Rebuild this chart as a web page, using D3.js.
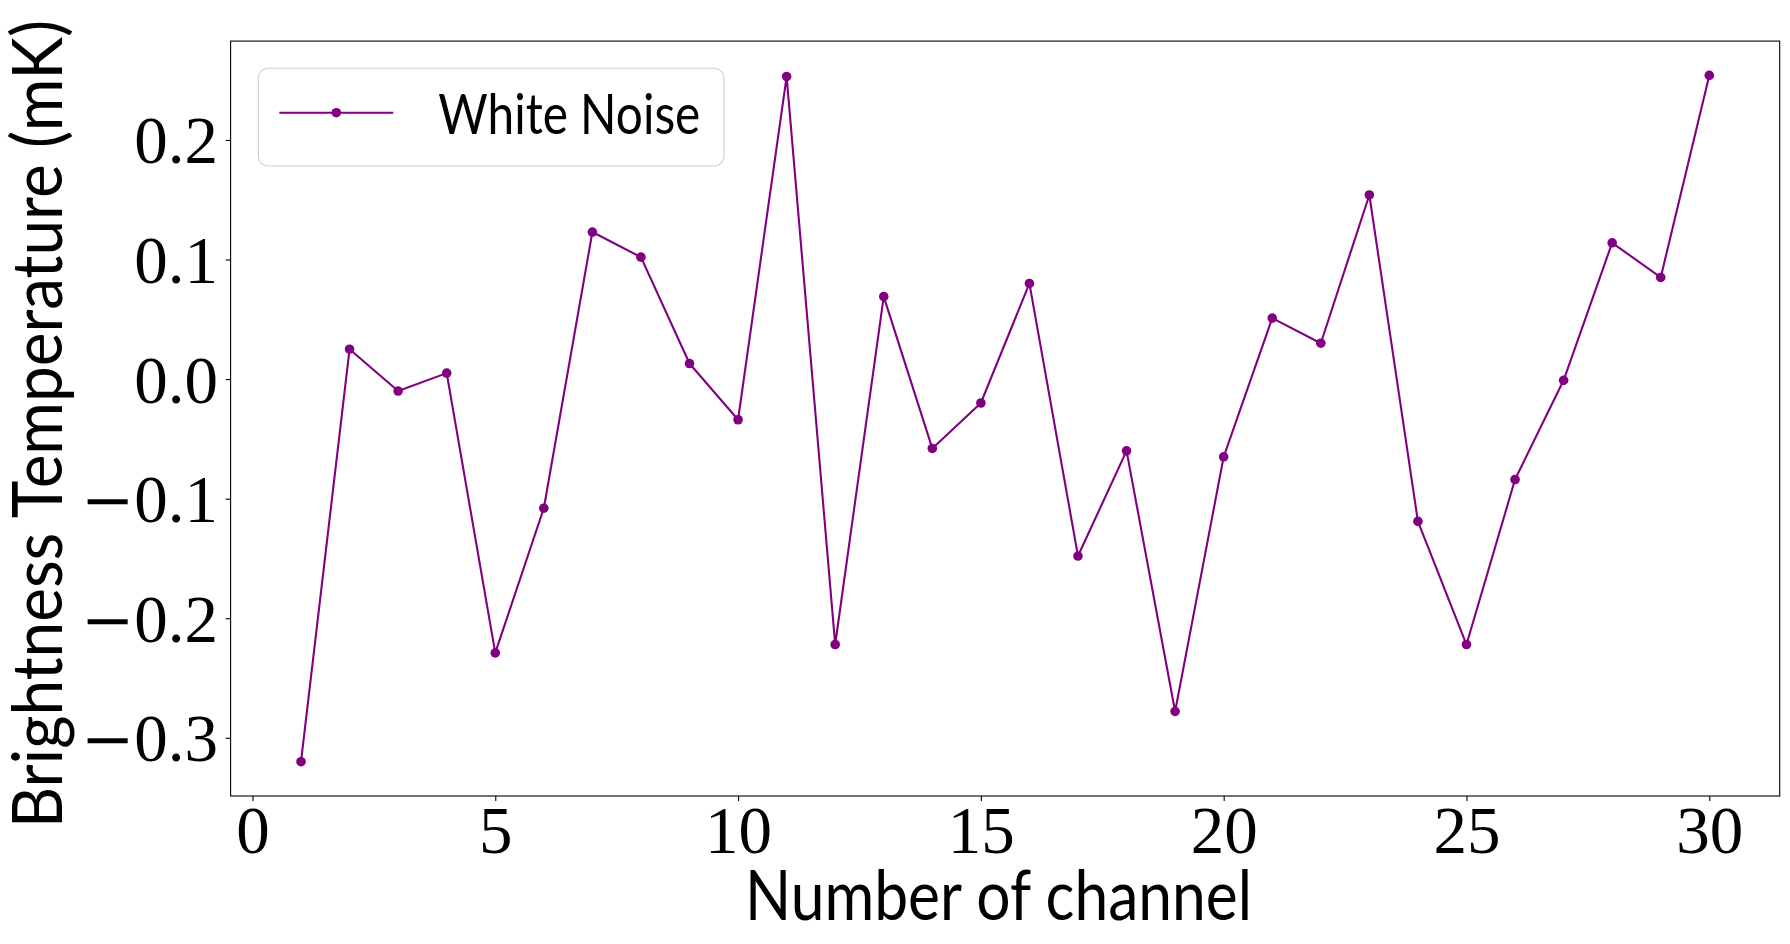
<!DOCTYPE html>
<html><head><meta charset="utf-8">
<script src="https://cdn.jsdelivr.net/npm/d3@7"></script>
<style>html,body{margin:0;padding:0;background:#fff;} svg{display:block;}</style>
</head><body>
<svg id="chart" width="1790" height="944"></svg>
<script>
// ---- data ----
const channels = [1,2,3,4,5,6,7,8,9,10,11,12,13,14,15,16,17,18,19,20,21,22,23,24,25,26,27,28,29,30];
const whiteNoise = [-0.320,0.025,-0.010,0.005,-0.229,-0.108,0.123,0.102,0.013,-0.034,
                    0.253,-0.222,0.069,-0.058,-0.020,0.080,-0.148,-0.060,-0.278,-0.065,
                    0.051,0.030,0.154,-0.119,-0.222,-0.084,-0.001,0.114,0.085,0.254];
const xTicks = [0,5,10,15,20,25,30];
const xTickLabels = ["0","5","10","15","20","25","30"];
const yTicks = [-0.3,-0.2,-0.1,0.0,0.1,0.2];
const yTickLabels = ["\u22120.3","\u22120.2","\u22120.1","0.0","0.1","0.2"];
const xLabel = "Number of channel";
const yLabel = "Brightness Temperature (mK)";
const seriesName = "White Noise";

// ---- layout ----
const W = 1790, H = 944;
const m = {left:230.6, right:1779.7, top:41.1, bottom:796};
const color = "#800080";
const serif = "'Liberation Serif', 'Times New Roman', serif";
const sans = "Lato, 'DejaVu Sans', sans-serif";

const svg = d3.select("#chart");
svg.append("rect").attr("width", W).attr("height", H).attr("fill", "#fff");

const [xmin, xmax] = d3.extent(channels);
const xpad = (xmax - xmin) * 0.05;
const x = d3.scaleLinear().domain([xmin - xpad, xmax + xpad]).range([m.left, m.right]);
const [ymin, ymax] = d3.extent(whiteNoise);
const ypad = (ymax - ymin) * 0.05;
const y = d3.scaleLinear().domain([ymin - ypad, ymax + ypad]).range([m.bottom, m.top]);

// x axis
const gx = svg.append("g").attr("transform", `translate(0,${m.bottom})`)
  .call(d3.axisBottom(x).tickValues(xTicks).tickFormat((d,i) => xTickLabels[i]).tickSize(5).tickSizeOuter(0));
gx.select(".domain").remove();
gx.selectAll(".tick line").attr("stroke", "#000").attr("stroke-width", 1.1);
gx.selectAll(".tick text").attr("y", 57).attr("dy", 0)
  .attr("font-family", serif).attr("font-size", 67).attr("fill", "#000");

// y axis
const gy = svg.append("g").attr("transform", `translate(${m.left},0)`)
  .call(d3.axisLeft(y).tickValues(yTicks).tickFormat((d,i) => yTickLabels[i]).tickSize(5).tickSizeOuter(0));
gy.select(".domain").remove();
gy.selectAll(".tick line").attr("stroke", "#000").attr("stroke-width", 1.1);
gy.selectAll(".tick text").attr("x", -12.6).attr("dy", 0).attr("y", 23)
  .attr("font-family", serif).attr("font-size", 67).attr("fill", "#000")
  .each(function() {
    const t = d3.select(this);
    const s = t.text();
    if (s.startsWith("\u2212")) {
      t.text("");
      t.append("tspan").attr("font-family", "'DejaVu Serif', serif").attr("font-size", 64).text("\u2212");
      t.append("tspan").text(s.slice(1));
    }
  });

// frame
svg.append("rect").attr("x", m.left).attr("y", m.top)
  .attr("width", m.right - m.left).attr("height", m.bottom - m.top)
  .attr("fill", "none").attr("stroke", "#000").attr("stroke-width", 1.1);

// series
const pts = channels.map((c, i) => [c, whiteNoise[i]]);
svg.append("path").datum(pts)
  .attr("d", d3.line().x(d => x(d[0])).y(d => y(d[1])))
  .attr("fill", "none").attr("stroke", color).attr("stroke-width", 2.1).attr("stroke-linejoin", "round");
svg.append("g").selectAll("circle").data(pts).join("circle")
  .attr("cx", d => x(d[0])).attr("cy", d => y(d[1])).attr("r", 4.8).attr("fill", color);

// legend
const lg = svg.append("g");
lg.append("rect").attr("x", 258.3).attr("y", 68.3).attr("width", 465.7).attr("height", 97.7)
  .attr("rx", 10).attr("ry", 10).attr("fill", "#fff").attr("fill-opacity", 0.8)
  .attr("stroke", "#cccccc").attr("stroke-width", 1.1);
lg.append("line").attr("x1", 279.3).attr("x2", 393.3).attr("y1", 112.7).attr("y2", 112.7)
  .attr("stroke", color).attr("stroke-width", 2.1);
lg.append("circle").attr("cx", 336.3).attr("cy", 112.7).attr("r", 4.8).attr("fill", color);
lg.append("text").attr("x", 438.3).attr("y", 134).attr("font-family", sans).attr("font-size", 55.6)
  .attr("textLength", 262).attr("lengthAdjust", "spacingAndGlyphs").attr("fill", "#000").text(seriesName);

// axis labels
svg.append("text").attr("x", 998.5).attr("y", 920).attr("text-anchor", "middle")
  .attr("font-family", sans).attr("font-size", 69.4).attr("fill", "#000")
  .attr("textLength", 507).attr("lengthAdjust", "spacingAndGlyphs").text(xLabel);
svg.append("text").attr("transform", "translate(62,424) rotate(-90)").attr("text-anchor", "middle")
  .attr("font-family", sans).attr("font-size", 69.4).attr("fill", "#000")
  .attr("textLength", 808).attr("lengthAdjust", "spacingAndGlyphs").text(yLabel);
</script>
</body></html>
